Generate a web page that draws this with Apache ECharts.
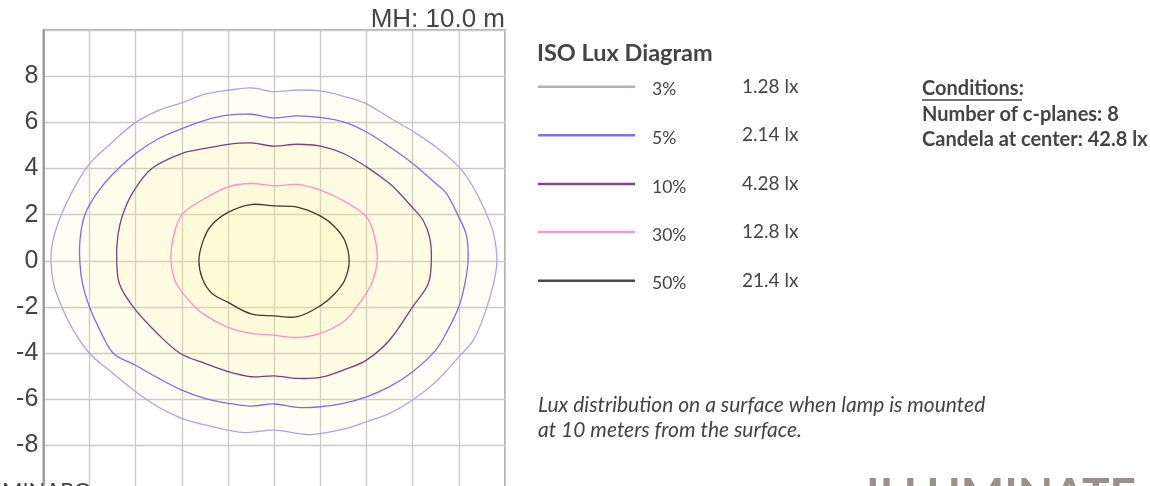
<!DOCTYPE html>
<html><head><meta charset="utf-8">
<script src="https://cdn.jsdelivr.net/npm/echarts@6/dist/echarts.min.js"></script>
<style>html,body{margin:0;padding:0;background:#fff;overflow:hidden}#c{width:1150px;height:500px}</style>
</head><body><div id="c"></div>
<script>
// ---- data ----
const levelNames = ['3%', '5%', '10%', '30%', '50%'];
const luxValues = ['1.28 lx', '2.14 lx', '4.28 lx', '12.8 lx', '21.4 lx'];
const conditionLines = ['Conditions:', 'Number of c-planes: 8', 'Candela at center: 42.8 lx'];
const noteLines = ['Lux distribution on a surface when lamp is mounted', 'at 10 meters from the surface.'];
const mountingHeight = 'MH: 10.0 m';

const contour3 = [[9.65,0],[9.5,1.2],[9.19,2.05],[8.62,3.2],[8.0,4.07],[7,4.94],[6,5.62],[5,6.2],[4,6.8],[3,7.13],[2,7.36],[1,7.4],[0,7.33],[-1,7.49],[-2,7.39],[-3,7.22],[-4,6.84],[-5,6.52],[-6,6.0],[-7,5.15],[-8,4.2],[-8.75,3.0],[-9.3,1.8],[-9.6,0.8],[-9.67,0],[-9.55,-1],[-9.2,-2],[-8.7,-3],[-8,-4.0],[-7,-4.86],[-6,-5.67],[-5,-6.34],[-4,-6.82],[-3,-7.11],[-2,-7.33],[-1.3,-7.44],[0,-7.33],[1,-7.47],[1.6,-7.53],[3,-7.29],[4,-6.97],[5,-6.61],[6,-6.03],[7,-5.24],[8,-4.16],[8.65,-3.4],[9.15,-2.2],[9.5,-1]];
const contour5 = [[8.4,0],[8.33,1.1],[7.95,2.0],[7.46,2.92],[7,3.35],[6,4.22],[5,4.94],[4,5.58],[3,6.02],[2,6.21],[1,6.28],[0,6.19],[-1,6.35],[-2,6.31],[-3,6.09],[-4,5.73],[-5,5.3],[-6,4.65],[-7,3.75],[-7.7,2.9],[-8.2,2],[-8.4,1],[-8.42,0],[-8.3,-1],[-8,-2],[-7.55,-3],[-6.97,-4],[-6,-4.52],[-5,-5.09],[-4,-5.6],[-3,-5.96],[-2,-6.17],[-1,-6.29],[0,-6.2],[1,-6.35],[2,-6.32],[3,-6.17],[4,-5.89],[5,-5.45],[6,-4.8],[7,-3.87],[7.52,-3],[8,-1.99],[8.26,-1]];
const contour10 = [[6.81,0],[6.74,1],[6.45,1.76],[6,2.3],[5.44,2.92],[5,3.35],[4,4.07],[3,4.65],[2,4.97],[1,5.05],[0,4.97],[-1,5.11],[-2,5.05],[-3,4.87],[-4,4.65],[-5.3,4],[-6.1,3.0],[-6.56,2],[-6.78,1],[-6.82,0],[-6.7,-1],[-6.1,-2],[-5.1,-3.1],[-4.08,-4],[-3,-4.44],[-2,-4.8],[-1,-5.02],[0,-4.98],[1,-5.09],[2,-5.05],[3,-4.73],[4,-4.3],[5,-3.43],[6,-1.99],[6.67,-1]];
const contour30 = [[4.46,0],[4.36,1.0],[4.0,1.9],[3,2.6],[2,3.06],[1,3.31],[0,3.25],[-1,3.35],[-2,3.2],[-3,2.7],[-4,2],[-4.37,1],[-4.47,0],[-4.23,-1],[-3.43,-2],[-3,-2.35],[-2,-2.88],[-1,-3.14],[0,-3.22],[1,-3.32],[2,-3.14],[3,-2.64],[3.57,-2],[4.21,-1]];
const contour50 = [[3.25,0],[3.05,0.9],[2.6,1.5],[2,1.95],[1,2.33],[0,2.38],[-1,2.44],[-2,2.1],[-2.75,1.5],[-3.1,0.8],[-3.26,0],[-3.1,-0.8],[-2.7,-1.4],[-2,-1.8],[-1,-2.3],[0,-2.38],[1,-2.42],[2,-1.95],[2.6,-1.45],[3.05,-0.85]];
const contours = [contour3, contour5, contour10, contour30, contour50];

// ---- style ----
const lineColors = ['#aea4e2', '#7b6eea', '#7e3c84', '#ff8ecb', '#3a3a3a'];
const legendLineColors = ['#b3a9e0', '#7f72e6', '#86408a', '#e99fcc', '#4a4a4a'];
const TXT = '#444';

const chart = echarts.init(document.getElementById('c'), null, {renderer: 'canvas'});

const series = contours.map((pts, i) => ({
  type: 'custom',
  name: levelNames[i],
  coordinateSystem: 'cartesian2d',
  silent: true,
  animation: false,
  z: 2 + i,
  data: [[0, 0]],
  renderItem: (params, api) => ({
    type: 'polygon',
    shape: {points: pts.map(p => api.coord(p)), smooth: 0.35},
    style: {fill: 'rgba(255,240,140,0.09)', stroke: lineColors[i], lineWidth: 1.3}
  })
}));

const graphic = [];
graphic.push({type: 'text', right: 1150 - 505, top: 7, style: {text: mountingHeight, font: '26px "Liberation Sans", Arial, sans-serif', fill: TXT}});
graphic.push({type: 'text', x: 537, y: 53, style: {text: 'ISO Lux Diagram', font: 'bold 23.5px Lato, sans-serif', fill: TXT, verticalAlign: 'middle'}});
const legendY = [86.7, 135.3, 184, 232, 280.7];
levelNames.forEach((n, i) => {
  graphic.push({type: 'line', shape: {x1: 538, y1: legendY[i], x2: 635, y2: legendY[i]}, style: {stroke: legendLineColors[i], lineWidth: 2.6}});
  graphic.push({type: 'text', x: 652, y: legendY[i] + 3, style: {text: n, font: '17.5px Lato, sans-serif', fill: TXT, verticalAlign: 'middle'}});
  graphic.push({type: 'text', x: 742, y: legendY[i], style: {text: luxValues[i], font: '19px Lato, sans-serif', fill: TXT, verticalAlign: 'middle'}});
});
const condY = [89, 115, 140];
conditionLines.forEach((t, i) => {
  graphic.push({type: 'text', x: 922, y: condY[i], style: {text: t, font: 'bold 20px Lato, sans-serif', fill: TXT, verticalAlign: 'middle'}});
});
graphic.push({type: 'line', shape: {x1: 922, y1: 100, x2: 1022, y2: 100}, style: {stroke: TXT, lineWidth: 1.3}});
const noteY = [405, 430];
noteLines.forEach((t, i) => {
  graphic.push({type: 'text', x: 538, y: noteY[i], style: {text: t, font: 'italic 21px Lato, sans-serif', fill: TXT, verticalAlign: 'middle'}});
});
graphic.push({type: 'text', x: 2, y: 491, style: {text: 'MINARO', font: '22px Lato, sans-serif', fill: TXT, verticalAlign: 'middle'}});
graphic.push({type: 'text', x: 866, y: 496, style: {text: 'ILLUMINATE', font: 'bold 46px Lato, sans-serif', fill: '#9b918c', verticalAlign: 'middle'}});

chart.setOption({
  animation: false,
  backgroundColor: '#fff',
  grid: {left: 43.3, top: 30, width: 461.7, height: 461.7, show: true, borderColor: '#999', borderWidth: 1.5, containLabel: false},
  xAxis: {
    type: 'value', min: -10, max: 10, interval: 2,
    axisLine: {show: false}, axisTick: {show: false}, axisLabel: {show: false},
    splitLine: {show: true, lineStyle: {color: '#c9c9c9', width: 1.3}}
  },
  yAxis: {
    type: 'value', min: -10, max: 10, interval: 2,
    axisLine: {show: true, onZero: false, lineStyle: {color: '#8a8a8a', width: 1.5}}, axisTick: {show: false},
    axisLabel: {
      show: true, margin: 5, fontSize: 25, color: TXT, fontFamily: '"Liberation Sans", Arial, sans-serif',
      formatter: v => (Math.abs(v) === 10 ? '' : String(v))
    },
    splitLine: {show: true, lineStyle: {color: '#c9c9c9', width: 1.3}}
  },
  series: series,
  graphic: graphic
});
</script>
</body></html>
